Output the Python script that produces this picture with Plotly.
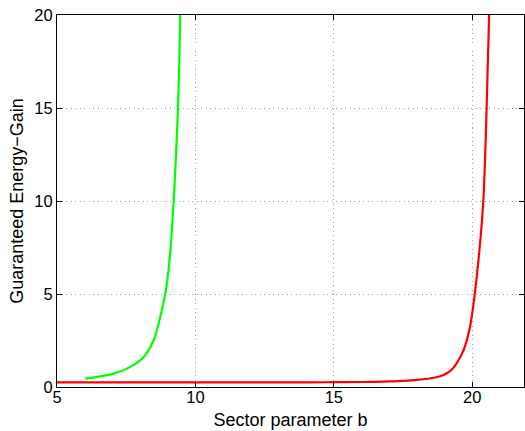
import plotly.graph_objects as go

# Green curve (left)
green_x = [6.02, 6.5, 7.04, 7.65, 8.13, 8.49, 8.73, 8.91, 9.03, 9.12, 9.21, 9.30, 9.37, 9.42, 9.45]
green_y = [0.45, 0.56, 0.72, 1.08, 1.61, 2.51, 3.77, 5.0, 6.3, 7.8, 9.9, 12.5, 15.0, 17.5, 20.0]

# Red curve (right)
red_x = [5, 10, 14, 15, 16, 16.5, 17, 17.5, 18, 18.5, 18.84, 19.08, 19.3, 19.44, 19.6, 19.74, 19.92, 20.09, 20.26, 20.4, 20.52, 20.61]
red_y = [0.25, 0.25, 0.25, 0.26, 0.27, 0.28, 0.3, 0.33, 0.38, 0.47, 0.58, 0.74, 1.0, 1.28, 1.7, 2.2, 3.23, 4.99, 7.36, 10.0, 15.0, 20.0]

x_ticks = [5, 10, 15, 20]
y_ticks = [0, 5, 10, 15, 20]

fig = go.Figure()
fig.add_trace(go.Scatter(x=green_x, y=green_y, mode="lines",
                         line=dict(color="#00ff00", width=2.2, shape="spline", smoothing=1.0),
                         showlegend=False, hoverinfo="skip"))
fig.add_trace(go.Scatter(x=red_x, y=red_y, mode="lines",
                         line=dict(color="#ff0000", width=2.2, shape="spline", smoothing=1.0),
                         showlegend=False, hoverinfo="skip"))

FONT = "Liberation Sans, Arial, sans-serif"
axis_common = dict(
    showline=True, linecolor="black", linewidth=1, mirror="ticks",
    ticks="inside", ticklen=5, tickcolor="black", tickwidth=1,
    showgrid=True, gridcolor="#a0a0a0", griddash="1px,3.5px", gridwidth=1,
    zeroline=False, tickfont=dict(family=FONT, size=16.5, color="black"),
)

fig.update_layout(
    width=525, height=431,
    margin=dict(l=57, r=1, t=15, b=44),
    paper_bgcolor="white", plot_bgcolor="white",
    font=dict(family=FONT, color="black"),
    xaxis=dict(range=[5, 21.87], tickvals=x_ticks, ticktext=[str(v) for v in x_ticks],
               ticklabelstandoff=-5,
               title=dict(text="Sector parameter b", font=dict(size=18), standoff=8),
               **axis_common),
    yaxis=dict(range=[0, 20], tickvals=y_ticks, ticktext=[str(v) for v in y_ticks],
               title=dict(text="Guaranteed Energy\u2212Gain", font=dict(size=18), standoff=6),
               **axis_common),
)

fig.write_html("out.html")
